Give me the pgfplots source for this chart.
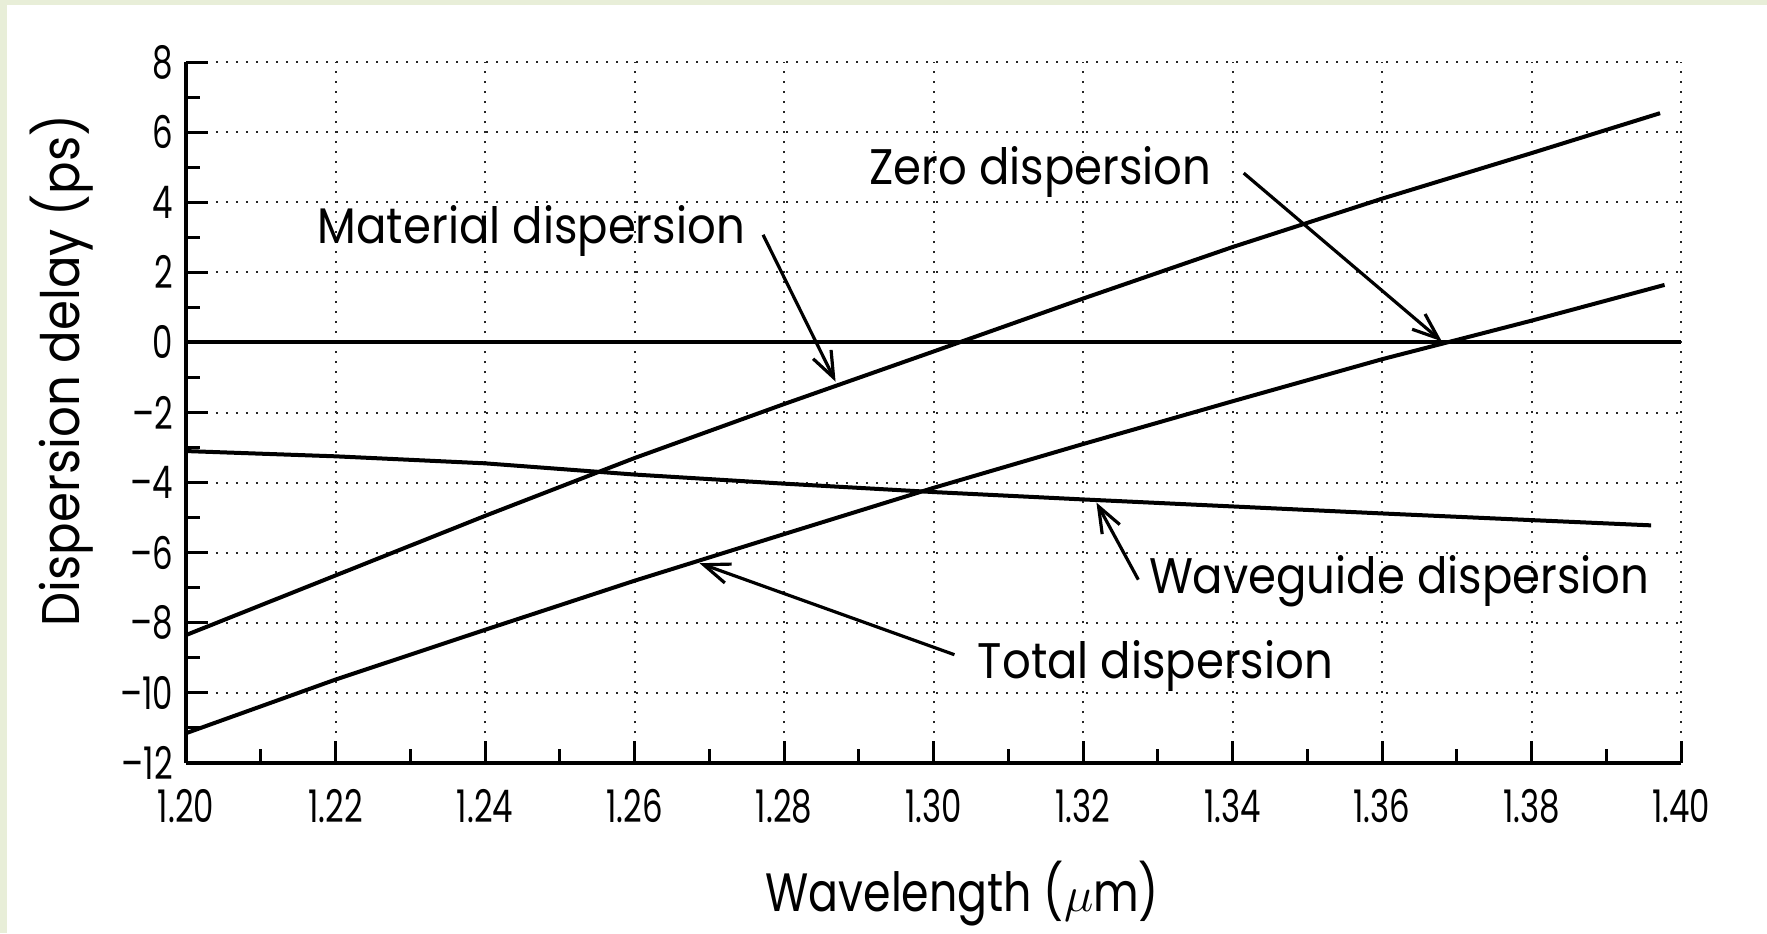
\documentclass[border=0pt]{standalone}
\usepackage{fontspec}
\setmainfont{Poppins}[FakeStretch=0.9]
\newfontfamily\tickfont{Poppins}[FakeStretch=0.72]
\newfontfamily\labelfont{Poppins}[FakeStretch=0.82]
\newfontfamily\ylabelfont{Poppins}[FakeStretch=0.91]
\usepackage{pgfplots}
\pgfplotsset{compat=1.18}
\usetikzlibrary{arrows.meta}
\definecolor{bggreen}{RGB}{232,238,216}

\pgfplotstableread{
x y
1.20 -8.35
1.22 -6.65
1.24 -4.95
1.26 -3.30
1.28 -1.76
1.30 -0.26
1.32 1.25
1.34 2.72
1.36 4.10
1.38 5.40
1.3972 6.54
}\material

\pgfplotstableread{
x y
1.20 -3.10
1.22 -3.25
1.24 -3.45
1.26 -3.77
1.28 -4.03
1.30 -4.27
1.32 -4.48
1.34 -4.68
1.36 -4.88
1.38 -5.07
1.396 -5.22
}\waveguide

\pgfplotstableread{
x y
1.20 -11.15
1.22 -9.62
1.24 -8.20
1.26 -6.80
1.28 -5.47
1.30 -4.15
1.32 -2.90
1.34 -1.68
1.36 -0.48
1.38 0.62
1.3978 1.64
}\total

\begin{document}
\begin{tikzpicture}
\path[use as bounding box] (0,0) rectangle (883.5pt,466.5pt);
\fill[bggreen] (0,0) rectangle (883.5pt,466.5pt);
\fill[white] (3.5pt,0) rectangle (883.5pt,464pt);
\begin{axis}[
  at={(93pt,85pt)}, anchor=south west,
  scale only axis, width=747.5pt, height=350.5pt,
  xmin=1.2, xmax=1.4, ymin=-12, ymax=8,
  axis x line=bottom, axis y line=left,
  axis line style={-, line width=1.8pt, black},
  xtick={1.20,1.22,1.24,1.26,1.28,1.30,1.32,1.34,1.36,1.38,1.40},
  xticklabels={1.20,1.22,1.24,1.26,1.28,1.30,1.32,1.34,1.36,1.38,1.40},
  ytick={-12,-10,-8,-6,-4,-2,0,2,4,6,8},
  yticklabels={–12,–10,–8,–6,–4,–2,0,2,4,6,8},
  minor x tick num=1, minor y tick num=1,
  tick align=inside,
  major tick length=11pt, minor tick length=7pt,
  tick style={line width=1.5pt, black},
  grid=major,
  major grid style={line width=1pt, dash pattern=on 1.1pt off 3.9pt, black!85},
  ticklabel style={font=\tickfont\fontsize{22.5}{24}\selectfont},
  xticklabel style={anchor=center, yshift=-21.5pt},
  yticklabel style={anchor=east, xshift=-3pt},
  xlabel={Wavelength ($\mu$m)},
  ylabel={Dispersion delay (ps)},
  every axis x label/.style={at={(rel axis cs:0.5,0)}, anchor=center, xshift=14.4pt, yshift=-65.5pt, font=\labelfont\fontsize{27}{32}\selectfont},
  every axis y label/.style={at={(rel axis cs:0,0.5)}, anchor=center, rotate=90, xshift=21pt, yshift=62pt, font=\ylabelfont\fontsize{26.5}{32}\selectfont},
  clip=false,
]
\addplot[black, line width=2pt, mark=none] coordinates {(1.20,0) (1.40,0)};
\addplot[black, line width=2pt, mark=none] table[x=x,y=y] {\material};
\addplot[black, line width=2pt, mark=none] table[x=x,y=y] {\waveguide};
\addplot[black, line width=2pt, mark=none] table[x=x,y=y] {\total};

\node[anchor=base, font=\fontsize{25}{30}\selectfont] at (axis cs:1.3143,4.50) {Zero dispersion};
\node[anchor=base, font=\fontsize{25}{30}\selectfont] at (axis cs:1.2462,2.83) {Material dispersion};
\node[anchor=base, font=\fontsize{25}{30}\selectfont] at (axis cs:1.3623,-7.15) {Waveguide dispersion};
\node[anchor=base, font=\fontsize{25}{30}\selectfont] at (axis cs:1.3297,-9.60) {Total dispersion};

\draw[line width=1.6pt, -{Straight Barb[length=13pt, width=10pt]}] (axis cs:1.3415,4.83) -- (axis cs:1.3680,0.03);
\draw[line width=1.6pt, -{Straight Barb[length=13pt, width=10pt]}] (axis cs:1.2772,3.07) -- (axis cs:1.2869,-1.12);
\draw[line width=1.6pt, -{Straight Barb[length=13pt, width=10pt]}] (axis cs:1.3274,-6.77) -- (axis cs:1.3218,-4.57);
\draw[line width=1.6pt, -{Straight Barb[length=13pt, width=10pt]}] (axis cs:1.3028,-8.91) -- (axis cs:1.2687,-6.30);
\end{axis}
\end{tikzpicture}
\end{document}
